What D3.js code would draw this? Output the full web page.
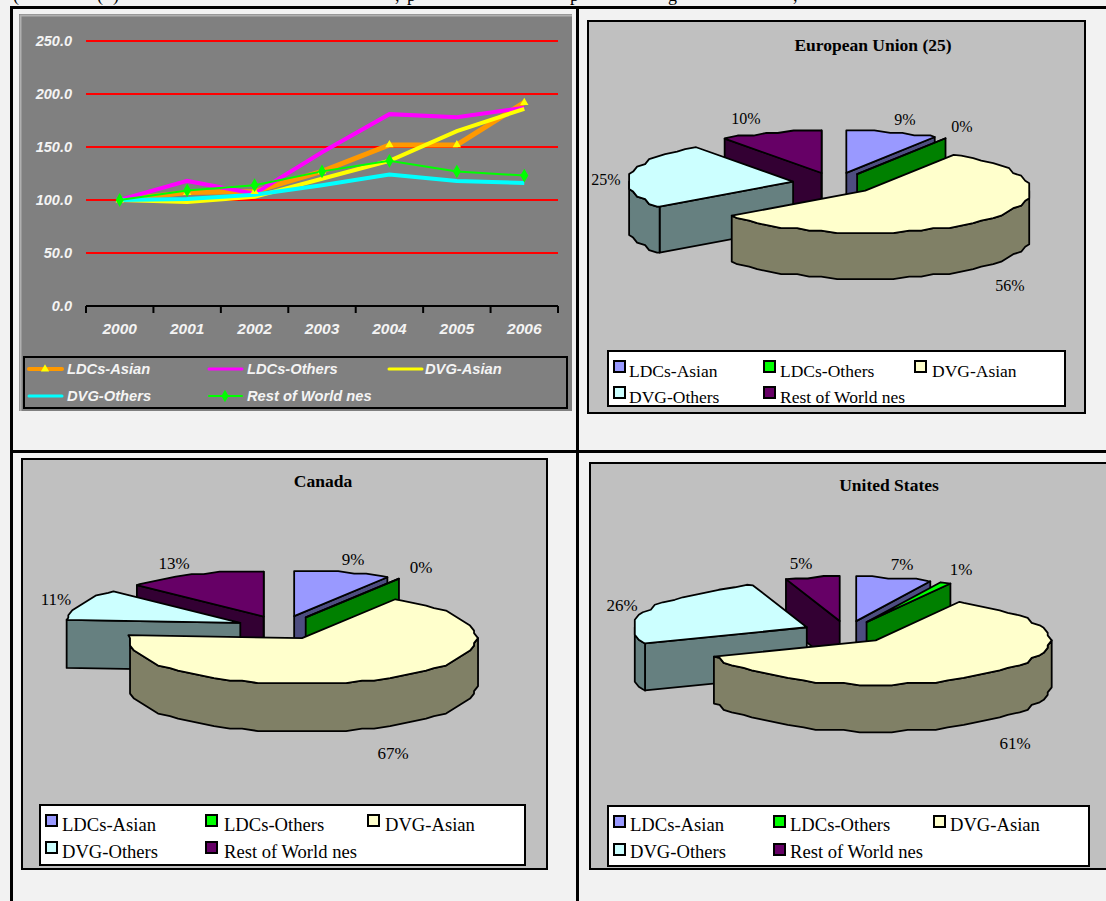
<!DOCTYPE html>
<html>
<head>
<meta charset="utf-8">
<script src="https://cdn.jsdelivr.net/npm/d3@7"></script>
<style>
  html, body { margin: 0; padding: 0; background: #f2f2f2; overflow: hidden; }
  svg { display: block; }
  .serif { font-family: "Liberation Serif", "Times New Roman", serif; fill: #000; }
  .sans { font-family: "Liberation Sans", Arial, sans-serif; font-weight: bold; font-style: italic; fill: #f4f4f4; }
</style>
</head>
<body>
<div id="chart"></div>
<script>
// index lines, 2000 = 100
const years = ['2000', '2001', '2002', '2003', '2004', '2005', '2006'];
const ldcAsian = [100, 107, 108, 127, 152, 152, 192];
const ldcOthers = [100, 118, 106, 145, 181, 178, 187];
const dvgAsian = [100, 98, 103, 120, 137, 165, 186];
const dvgOthers = [100, 101, 105, 114, 124, 118, 116];
const restWorld = [100, 109, 114, 127, 137, 127, 123];
const yTicks = [0, 50, 100, 150, 200, 250];

// pie shares in percent
const groups = ['LDCs-Asian', 'LDCs-Others', 'DVG-Asian', 'DVG-Others', 'Rest of World nes'];
const euShares = [9, 0, 56, 25, 10];
const canadaShares = [9, 0, 67, 11, 13];
const usShares = [7, 1, 61, 26, 5];

const svg = d3.select('#chart').append('svg')
  .attr('width', 1106)
  .attr('height', 901);

// heading line cut off by the top edge, only the descenders show
const headBits = [[13, '('], [97, '('], [113, ')'], [395, ','], [407, 'p'], [570, 'p'], [668, 'g'], [793, ',']];
svg.selectAll('.head').data(headBits).enter().append('text')
  .attr('class', 'head serif')
  .attr('x', d => d[0])
  .attr('y', 1)
  .style('font-size', '18px')
  .text(d => d[1]);

// table rules
const rules = [[10, 7.5, 1106, 7.5], [11.5, 7, 11.5, 901], [577.5, 7, 577.5, 901], [10, 451.5, 1106, 451.5]];
svg.selectAll('.rule').data(rules).enter().append('line')
  .attr('x1', d => d[0]).attr('y1', d => d[1])
  .attr('x2', d => d[2]).attr('y2', d => d[3])
  .attr('stroke', '#000')
  .attr('stroke-width', 3);

// ---- line chart ----
const plot = { left: 86, right: 558, top: 41, bottom: 306 };

svg.append('rect').attr('x', 19).attr('y', 14).attr('width', 553).attr('height', 397)
  .attr('fill', '#808080');
svg.append('path').attr('d', 'M20.5,411V15.5H572')
  .attr('fill', 'none').attr('stroke', '#b0b0b0').attr('stroke-width', 2);

const xScale = d3.scaleBand().domain(years).range([plot.left, plot.right]);
const yScale = d3.scaleLinear().domain([0, 250]).range([plot.bottom, plot.top]);

// red grid comes from the axis ticks
const yAxis = svg.append('g')
  .attr('transform', `translate(${plot.left},0)`)
  .call(d3.axisLeft(yScale).tickValues(yTicks).tickFormat(d3.format('.1f'))
    .tickSize(-(plot.right - plot.left)).tickPadding(14).offset(0));
yAxis.select('.domain').remove();
yAxis.selectAll('line').attr('stroke', d => d === 0 ? 'none' : '#ff0000').attr('stroke-width', 2);
yAxis.selectAll('text').attr('class', 'sans').style('font-size', '14.5px');

const xAxis = svg.append('g')
  .attr('transform', `translate(0,${plot.bottom})`)
  .call(d3.axisBottom(xScale).tickSize(0).tickPadding(17).offset(0));
xAxis.select('.domain').attr('stroke', '#000').attr('stroke-width', 2);
xAxis.selectAll('text').attr('class', 'sans').style('font-size', '15.5px');

// ticks sit on the band edges
const bandEdges = years.map(y => xScale(y)).concat(plot.right);
svg.selectAll('.edge').data(bandEdges).enter().append('line')
  .attr('x1', d => d).attr('x2', d => d)
  .attr('y1', plot.bottom).attr('y2', plot.bottom + 7)
  .attr('stroke', '#000').attr('stroke-width', 2);

const lineSeries = [
  { name: groups[0], values: ldcAsian, color: '#ff9900', width: 5, marker: d3.symbolTriangle, markerColor: '#ffff00' },
  { name: groups[1], values: ldcOthers, color: '#ff00ff', width: 4 },
  { name: groups[2], values: dvgAsian, color: '#ffff00', width: 4 },
  { name: groups[3], values: dvgOthers, color: '#00ffff', width: 4 },
  { name: groups[4], values: restWorld, color: '#00ff00', width: 2, marker: d3.symbolDiamond, markerColor: '#00ff00' }
];

const line = d3.line()
  .x((d, i) => xScale(years[i]) + xScale.bandwidth() / 2)
  .y(d => yScale(d));

lineSeries.forEach(s => {
  svg.append('path')
    .attr('d', line(s.values))
    .attr('fill', 'none')
    .attr('stroke', s.color)
    .attr('stroke-width', s.width);
});

// markers go on top of all the lines
lineSeries.filter(s => s.marker).forEach(s => {
  svg.selectAll(null).data(s.values).enter().append('path')
    .attr('d', d3.symbol().type(s.marker).size(s.marker === d3.symbolDiamond ? 55 : 30))
    .attr('transform', (d, i) => `translate(${xScale(years[i]) + xScale.bandwidth() / 2},${yScale(d)})`)
    .attr('fill', s.markerColor);
});

// line chart legend
svg.append('rect').attr('x', 24).attr('y', 357).attr('width', 543).attr('height', 51)
  .attr('fill', 'none').attr('stroke', '#000').attr('stroke-width', 2);
const lineKeySpots = [[29, 369], [209, 369], [389, 369], [29, 396], [209, 396]];
const lineKeyText = [67, 247, 425, 67, 247];
lineSeries.forEach((s, i) => {
  const [kx, ky] = lineKeySpots[i];
  svg.append('line')
    .attr('x1', kx).attr('x2', kx + 33).attr('y1', ky).attr('y2', ky)
    .attr('stroke', s.color).attr('stroke-width', Math.max(s.width - 1, 2)).attr('stroke-linecap', 'round');
  if (s.marker) {
    svg.append('path')
      .attr('d', d3.symbol().type(s.marker).size(s.marker === d3.symbolDiamond ? 45 : 30))
      .attr('transform', `translate(${kx + 16},${ky})`)
      .attr('fill', s.markerColor);
  }
  svg.append('text').attr('class', 'sans')
    .attr('x', lineKeyText[i]).attr('y', ky + 5)
    .style('font-size', '14.7px')
    .text(s.name);
});

// ---- exploded 3d pies ----
const topColors = ['#9999ff', '#00ff00', '#ffffcc', '#ccffff', '#660066'];
const sideColors = ['#4d4d80', '#008000', '#808066', '#668080', '#330033'];
const drawOrder = [0, 1, 4, 3, 2];
const pieGen = d3.pie().sort(null);
const pathOf = d3.line().curve(d3.curveLinear);

const panels = [
  {
    title: 'European Union (25)', shares: euShares,
    frame: [588, 21, 497, 392], titleAt: [873, 51], titleSize: 17.5, labelSize: 16,
    cx: 834.6, cy: 183.3, rx: 165, ry: 42.5, depth: 46, explode: 42,
    labelAt: [[905, 125], [962, 132], [1010, 291], [606, 185], [746, 124]],
    legend: { box: [608, 351, 457, 55], cols: [[614, 629], [764, 780], [915, 932]], rows: [[361, 377], [387, 403]], size: 17.5 }
  },
  {
    title: 'Canada', shares: canadaShares,
    frame: [22, 459, 525, 410], titleAt: [323, 487], titleSize: 17.5, labelSize: 17,
    cx: 281.6, cy: 627.5, rx: 174, ry: 46, depth: 48, explode: 45,
    labelAt: [[353, 565], [421, 573], [393, 759], [56, 605], [174, 569]],
    legend: { box: [40, 805, 485, 60], cols: [[46, 62], [206, 224], [368, 385]], rows: [[815, 831], [842, 858]], size: 18.6 }
  },
  {
    title: 'United States', shares: usShares,
    frame: [590, 463, 530, 406], titleAt: [889, 491], titleSize: 17.5, labelSize: 17,
    cx: 846.6, cy: 632, rx: 174, ry: 44, depth: 47, explode: 44,
    labelAt: [[902, 570], [961, 575], [1015, 749], [622, 611], [801, 569]],
    legend: { box: [608, 806, 481, 60], cols: [[614, 630], [774, 790], [934, 950]], rows: [[816, 831], [844, 858]], size: 18.6 }
  }
];

// rim of one slice on a fixed 5 degree grid, snapped coarsely so the edge steps
// like a low res ellipse; the same angle always lands on the same point
function rimPoints(p, a0, a1) {
  const step = 5 * Math.PI / 180;
  const angles = [a0];
  for (let k = Math.floor(a0 / step + 1e-6) + 1; k * step < a1 - 1e-6; k++) angles.push(k * step);
  angles.push(a1);
  return angles.map(a => {
    const onGrid = Math.abs(a / step - Math.round(a / step)) < 1e-6;
    const dx = p.rx * Math.sin(a);
    const dy = -p.ry * Math.cos(a);
    return onGrid ? [Math.round(dx / 4) * 4, Math.round(dy / 2.5) * 2.5] : [dx, dy];
  });
}

function drawPie(p) {
  const g = svg.append('g');
  const [fx, fy, fw, fh] = p.frame;
  g.append('rect').attr('x', fx).attr('y', fy).attr('width', fw).attr('height', fh)
    .attr('fill', '#c0c0c0').attr('stroke', '#000').attr('stroke-width', 2);

  g.append('text').attr('class', 'serif')
    .attr('x', p.titleAt[0]).attr('y', p.titleAt[1])
    .attr('text-anchor', 'middle')
    .style('font-size', p.titleSize + 'px').style('font-weight', 'bold')
    .text(p.title);

  const arcs = pieGen(p.shares);
  drawOrder.forEach(i => {
    const d = arcs[i];
    const mid = (d.startAngle + d.endAngle) / 2;
    const ax = p.cx + p.explode * Math.sin(mid);
    const ay = p.cy - p.explode * (p.ry / p.rx) * Math.cos(mid);
    const rim = rimPoints(p, d.startAngle, d.endAngle).map(q => [ax + q[0], ay + q[1]]);
    const first = rim[0];
    const last = rim[rim.length - 1];
    const walls = [];

    // cut faces that turn towards the viewer
    if (Math.sin(d.startAngle) < 0) {
      walls.push([[ax, ay], first, [first[0], first[1] + p.depth], [ax, ay + p.depth]]);
    }
    if (Math.sin(d.endAngle) > 0) {
      walls.push([[ax, ay], last, [last[0], last[1] + p.depth], [ax, ay + p.depth]]);
    }
    // outer wall, only the lower half of the ellipse
    const lo = Math.max(d.startAngle, Math.PI / 2);
    const hi = Math.min(d.endAngle, 3 * Math.PI / 2);
    if (hi > lo) {
      const front = rimPoints(p, lo, hi).map(q => [ax + q[0], ay + q[1]]);
      const under = front.map(q => [q[0], q[1] + p.depth]).reverse();
      walls.push(front.concat(under));
    }

    walls.forEach(w => {
      g.append('path')
        .attr('d', pathOf(w) + 'Z')
        .attr('fill', sideColors[i])
        .attr('stroke', '#000')
        .attr('stroke-width', 1.8)
        .attr('stroke-linejoin', 'round');
    });
    g.append('path')
      .attr('d', pathOf([[ax, ay]].concat(rim)) + 'Z')
      .attr('fill', topColors[i])
      .attr('stroke', '#000')
      .attr('stroke-width', 1.8)
      .attr('stroke-linejoin', 'round');
  });

  p.shares.forEach((v, i) => {
    g.append('text').attr('class', 'serif')
      .attr('x', p.labelAt[i][0]).attr('y', p.labelAt[i][1])
      .attr('text-anchor', 'middle')
      .style('font-size', p.labelSize + 'px')
      .text(v + '%');
  });

  const lg = p.legend;
  g.append('rect').attr('x', lg.box[0]).attr('y', lg.box[1]).attr('width', lg.box[2]).attr('height', lg.box[3])
    .attr('fill', '#fff').attr('stroke', '#000').attr('stroke-width', 2);
  const spots = [[0, 0], [1, 0], [2, 0], [0, 1], [1, 1]];
  groups.forEach((name, i) => {
    const col = lg.cols[spots[i][0]];
    const row = lg.rows[spots[i][1]];
    g.append('rect').attr('x', col[0]).attr('y', row[0]).attr('width', 11).attr('height', 11)
      .attr('fill', topColors[i]).attr('stroke', '#000').attr('stroke-width', 2);
    g.append('text').attr('class', 'serif')
      .attr('x', col[1]).attr('y', row[1])
      .style('font-size', lg.size + 'px')
      .text(name);
  });
}

panels.forEach(drawPie);
</script>
</body>
</html>
